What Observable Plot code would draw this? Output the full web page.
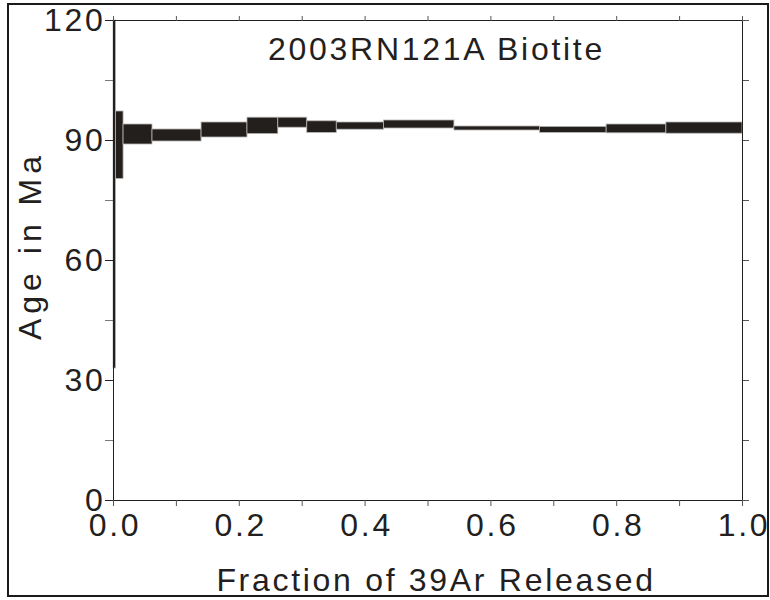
<!DOCTYPE html>
<html>
<head>
<meta charset="utf-8">
<script src="https://cdn.jsdelivr.net/npm/d3@7"></script>
<script src="https://cdn.jsdelivr.net/npm/@observablehq/plot@0.6"></script>
<style>
  body { margin: 0; background: #fff; }
  #wrap { position: relative; width: 770px; height: 600px; }
  #frame { position: absolute; left: 7px; top: 3px; width: 758px; height: 590px; border: 2px solid #1a1a1a; pointer-events: none; }
  #wrap svg text { letter-spacing: 2.7px; }
  #wrap svg text.ylab { letter-spacing: 5px; }
</style>
</head>
<body>
<div id="wrap"><div id="frame"></div></div>
<script>
// Step heating data: cumulative 39Ar fraction (start/end) and age envelope (Ma)
const fracStart = [0.000, 0.004, 0.016, 0.062, 0.140, 0.213, 0.262, 0.308, 0.355, 0.430, 0.542, 0.678, 0.784, 0.879];
const fracEnd   = [0.004, 0.016, 0.062, 0.140, 0.213, 0.262, 0.308, 0.355, 0.430, 0.542, 0.678, 0.784, 0.879, 1.000];
const ageLow    = [33.0, 80.4, 89.0, 89.75, 90.75, 91.6, 93.2, 91.9, 92.7, 93.0, 92.5, 91.9, 91.8, 91.7];
const ageHigh   = [120.0, 97.25, 94.0, 92.75, 94.5, 95.7, 95.7, 94.8, 94.5, 95.0, 93.5, 93.4, 94.0, 94.5];

const yMajor = [0, 30, 60, 90, 120];
const yMinor = [15, 45, 75, 105];
const yAll   = [0, 15, 30, 45, 60, 75, 90, 105, 120];
const xMajor = [0, 0.2, 0.4, 0.6, 0.8, 1.0];
const xAll   = [0, 0.1, 0.2, 0.3, 0.4, 0.5, 0.6, 0.7, 0.8, 0.9, 1.0];

const titleText = "2003RN121A Biotite";
const xLabel = "Fraction of 39Ar Released";
const yLabel = "Age in Ma";

const steps = fracStart.map((d, i) => ({x1: d, x2: fracEnd[i], y1: ageLow[i], y2: ageHigh[i]}));

const ink = "#231f20";

const chart = Plot.plot({
  width: 770,
  height: 600,
  marginLeft: 113,
  marginRight: 28,
  marginTop: 20,
  marginBottom: 100,
  style: {fontFamily: "'Liberation Sans', Arial, sans-serif", fontSize: "32px", color: ink, background: "transparent", overflow: "visible"},
  x: {domain: [0, 1]},
  y: {domain: [0, 120]},
  marks: [
    Plot.rect(steps, {x1: "x1", x2: "x2", y1: "y1", y2: "y2", fill: "#231f1c", stroke: "#b5b5b5", strokeWidth: 0.8}),
    Plot.frame({stroke: ink, strokeWidth: 1}),
    // left axis
    Plot.axisY(yMajor, {anchor: "left", tickSize: 8, fill: "none", label: null, stroke: ink}),
    Plot.axisY(yMinor, {anchor: "left", tickSize: 8, fill: "none", label: null, stroke: "#777"}),
    Plot.axisY(yMajor, {anchor: "left", tickSize: 0, tickPadding: 8, label: null, fill: ink, fontSize: 32, tickFormat: d => String(d)}),
    // right axis
    Plot.axisY(yAll, {anchor: "right", tickSize: 6, fill: "none", label: null, stroke: "#555"}),
    // top axis
    Plot.axisX(xAll, {anchor: "top", tickSize: 5, fill: "none", label: null, stroke: "#555"}),
    // bottom axis
    Plot.axisX(xAll, {anchor: "bottom", tickSize: 6, fill: "none", label: null, stroke: "#555"}),
    Plot.axisX(xMajor, {anchor: "bottom", tickSize: 0, tickPadding: 13, label: null, fill: ink, fontSize: 32, tickFormat: d3.format(".1f"), dx: 1.5}),
    // title and axis labels
    Plot.text([titleText], {frameAnchor: "top", dy: 17, dx: 8.5, fill: ink, fontSize: 32}),
    Plot.text([xLabel], {frameAnchor: "bottom", dy: 90, dx: 8, fill: ink, fontSize: 32}),
    Plot.text([yLabel], {frameAnchor: "left", textAnchor: "middle", dx: -83, dy: -15, rotate: -90, fill: ink, fontSize: 32, className: "ylab"})
  ]
});

document.getElementById("wrap").prepend(chart);
// apply the wider spacing class to the y-axis title text elements
chart.querySelectorAll("g.ylab text, .ylab text").forEach(t => t.classList.add("ylab"));
</script>
</body>
</html>
